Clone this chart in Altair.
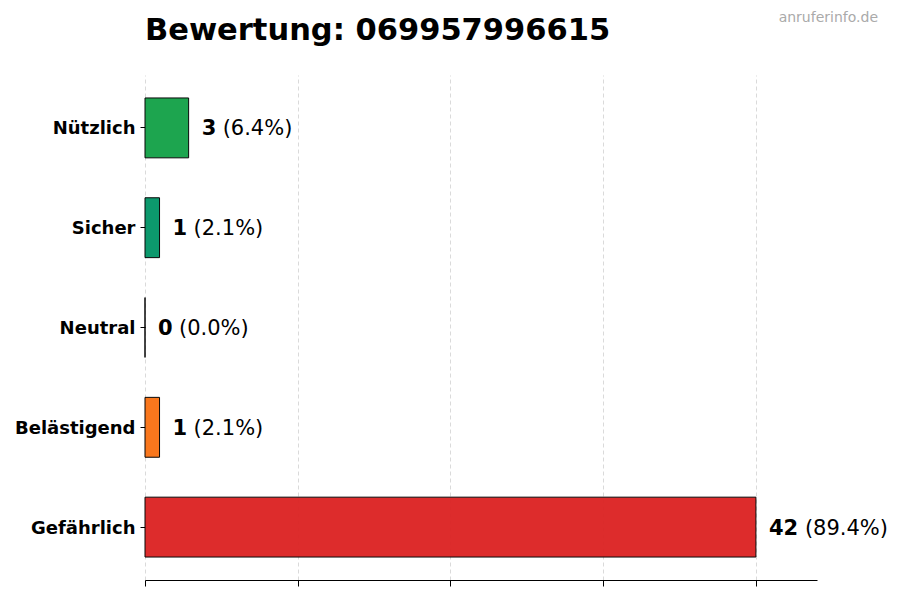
import altair as alt
import pandas as pd

categories = ["Nützlich", "Sicher", "Neutral", "Belästigend", "Gefährlich"]
values = [3, 1, 0, 1, 42]
colors = ["#16a34a", "#059669", "#6b7280", "#f97316", "#dc2626"]
title_text = "Bewertung: 069957996615"
watermark = "anruferinfo.de"
x_ticks = [0, 10.5, 21, 31.5, 42]

total = sum(values)
df = pd.DataFrame({
    "cat": categories,
    "value": values,
    "color": colors,
    "num": [str(v) for v in values],
    "pct": ["(" + f"{v / total * 100:.1f}" + "%)" for v in values],
})

FONT = "DejaVu Sans"
x_scale = alt.Scale(domain=[0, max(values) * 1.1], nice=False, zero=True)
y_enc = alt.Y(
    "cat:N", sort=categories, title=None,
    scale=alt.Scale(paddingInner=0.4, paddingOuter=0.23),
    axis=alt.Axis(domain=False, ticks=True, tickSize=5, tickColor="black",
                  labelFont=FONT, labelFontSize=18, labelFontWeight="bold",
                  labelColor="black", labelPadding=5, labelOffset=1.5, grid=False),
)

base = alt.Chart(df)

bars = base.mark_bar(stroke="black", strokeWidth=1, opacity=0.97).encode(
    x=alt.X("value:Q", scale=x_scale, title=None,
            axis=alt.Axis(values=x_ticks, labels=False, domain=True, domainColor="black",
                          tickColor="black", tickSize=6, grid=True, gridColor="#d0d0d0",
                          gridDash=[4, 3], gridWidth=0.8)),
    y=y_enc,
    color=alt.Color("color:N", scale=None),
)

num_text = base.mark_text(align="left", baseline="middle", dx=13, dy=1.5, font=FONT,
                          fontSize=21, fontWeight="bold", color="black").encode(
    x=alt.X("value:Q", scale=x_scale), y=y_enc, text="num:N")

pct1 = base.transform_filter("datum.value < 10").mark_text(
    align="left", baseline="middle", dx=34, dy=1.5, font=FONT, fontSize=21, color="black").encode(
    x=alt.X("value:Q", scale=x_scale), y=y_enc, text="pct:N")

pct2 = base.transform_filter("datum.value >= 10").mark_text(
    align="left", baseline="middle", dx=49, dy=1.5, font=FONT, fontSize=21, color="black").encode(
    x=alt.X("value:Q", scale=x_scale), y=y_enc, text="pct:N")

title = alt.Chart(pd.DataFrame({"t": [title_text]})).mark_text(
    align="left", baseline="alphabetic", font=FONT, fontSize=30.5, fontWeight="bold",
    color="black").encode(x=alt.value(0), y=alt.value(-35.5), text="t:N")

wm = alt.Chart(pd.DataFrame({"t": [watermark]})).mark_text(
    align="right", baseline="alphabetic", font=FONT, fontSize=14, color="#aaaaaa").encode(
    x=alt.value(733), y=alt.value(-53), text="t:N")

chart = alt.layer(bars, num_text, pct1, pct2, title, wm).properties(
    width=672, height=505,
    autosize=alt.AutoSizeParams(type="none"),
    padding={"left": 137, "top": 67, "right": 70, "bottom": 12},
).configure_view(stroke=None).configure_axis(labelFont=FONT)

chart.save("out.html", embed_options={"renderer": "svg", "actions": False})
